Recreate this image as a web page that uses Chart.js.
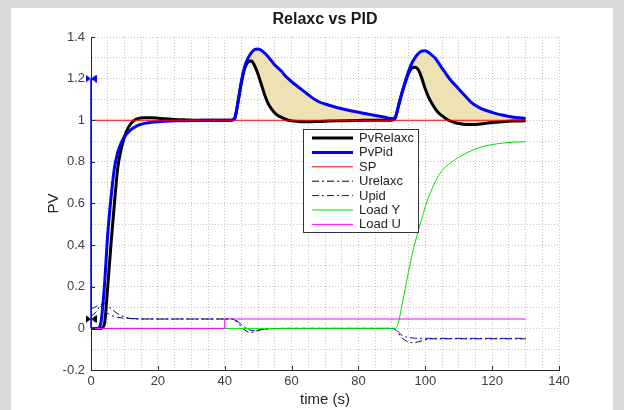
<!DOCTYPE html>
<html>
<head>
<meta charset="utf-8">
<script src="https://cdn.jsdelivr.net/npm/chart.js@4/dist/chart.umd.min.js"></script>
<style>
  html, body { margin: 0; padding: 0; background: #d9d9d9; }
  #panel { position: absolute; left: 11px; top: 8px; width: 602px; height: 402px; background: #fff; }
  #wrap { position: absolute; left: 0; top: 0; width: 624px; height: 410px; }
  canvas { display: block; }
</style>
</head>
<body>
<div id="panel"></div>
<div id="wrap"><canvas id="pvChart" width="624" height="410"></canvas></div>
<script>
// ---- data ----
const chartTitle = "Relaxc vs PID";
const xTitle = "time (s)";
const yTitle = "PV";

const time = [0,1,2,3,4,5,6,7,8,9,10,11,12,13,14,16,18,20,22,25,28,32,36,40,
  42,43,44,45,46,47,48,49,50,51,52,53,54,55,56,57,58,59,60,
  62,64,66,68,70,73,76,80,84,88,
  90,91,92,93,94,95,96,97,98,99,100,101,102,103,104,105,106,107,108,109,110,
  112,114,116,118,120,123,126,130];

const pvRelaxc = [0,0,0,0,0.02,0.2,0.41,0.6,0.77,0.86,0.92,0.96,0.985,1.0,1.008,1.012,1.012,1.01,1.007,1.004,1.002,1.0,1.0,1.0,
  1.0,1.01,1.09,1.18,1.25,1.28,1.285,1.26,1.22,1.17,1.12,1.08,1.055,1.035,1.022,1.014,1.007,1.0,0.997,
  0.994,0.993,0.993,0.994,0.995,0.997,0.998,0.999,1.0,1.0,
  1.0,1.01,1.07,1.13,1.18,1.225,1.25,1.255,1.24,1.2,1.15,1.11,1.08,1.055,1.035,1.022,1.01,1.0,0.993,0.988,0.984,
  0.98,0.979,0.981,0.985,0.989,0.993,0.996,0.997];

const pvPid = [0,0,0,0.03,0.2,0.45,0.63,0.77,0.845,0.89,0.92,0.94,0.955,0.966,0.975,0.985,0.99,0.993,0.995,0.997,0.998,0.999,1.0,1.0,
  1.0,1.01,1.09,1.19,1.26,1.3,1.325,1.34,1.342,1.335,1.322,1.305,1.285,1.265,1.25,1.235,1.215,1.2,1.185,
  1.16,1.135,1.11,1.09,1.078,1.064,1.052,1.038,1.026,1.014,
  1.008,1.015,1.07,1.13,1.185,1.235,1.275,1.302,1.322,1.333,1.334,1.325,1.312,1.298,1.275,1.25,1.228,1.205,1.185,1.168,1.15,
  1.115,1.082,1.062,1.048,1.038,1.025,1.016,1.008];

const spTime = [0, 130];
const sp = [1, 1];

const uTime = [0,1,2,3,4,5,6,7,8,10,12,15,20,30,40,42,43,44,45,46,47,48,49,50,
  52,55,60,70,80,88,90,91,92,93,94,95,96,97,98,100,102,105,110,120,130];
const uRelaxc = [0.06,0.07,0.09,0.115,0.118,0.108,0.095,0.082,0.07,0.055,0.047,0.045,0.045,0.045,0.045,
  0.045,0.04,0.025,0.008,-0.008,-0.017,-0.019,-0.016,-0.01,
  -0.004,-0.001,0,0,0,0,0,-0.005,-0.025,-0.045,-0.058,-0.066,-0.069,-0.068,-0.064,
  -0.055,-0.05,-0.05,-0.05,-0.05,-0.05];
const uPid = [0.095,0.1,0.108,0.104,0.085,0.072,0.063,0.057,0.053,0.049,0.047,0.046,0.045,0.045,0.045,
  0.045,0.043,0.032,0.018,0.006,-0.004,-0.01,-0.011,-0.008,
  -0.003,-0.001,0,0,0,0,0,-0.003,-0.018,-0.032,-0.04,-0.044,-0.046,-0.047,-0.048,
  -0.048,-0.048,-0.048,-0.048,-0.048,-0.048];

const loadYTime = [0,90,91,92,93,94,95,96,97,98,99,100,101,102,104,106,108,110,112,115,118,122,126,130];
const loadY = [0,0,0,0.03,0.11,0.19,0.275,0.35,0.415,0.475,0.53,0.585,0.632,0.67,0.735,0.775,0.8,0.822,0.84,0.862,0.877,0.888,0.894,0.897];

const loadUTime = [0, 40, 40, 130];
const loadU = [0, 0, 0.045, 0.045];

// markers sitting on the left axis
const stemTime = [0, 0];
const stemValue = [0, 1.2];
const pidMarker = [1.2];
const relaxcMarker = [0.045];

const fillStart = 42; // shaded gap only after the first load step

const xTickValues = [0,20,40,60,80,100,120,140];
const xTickLabels = ["0","20","40","60","80","100","120","140"];
const yTickValues = [-0.2,0,0.2,0.4,0.6,0.8,1,1.2,1.4];
const yTickLabels = ["-0.2","0","0.2","0.4","0.6","0.8","1","1.2","1.4"];

const legendLabels = ["PvRelaxc","PvPid","SP","Urelaxc","Upid","Load Y","Load U"];

// ---- helpers ----
const pts = (xs, ys) => xs.map((x, i) => ({ x: x, y: ys[i] }));
const after = (xs, ys, t0) => pts(xs, ys).filter(p => p.x >= t0);

function bowtie(color) {
  const c = document.createElement("canvas");
  c.width = 11; c.height = 8;
  const g = c.getContext("2d");
  g.fillStyle = color;
  g.beginPath(); g.moveTo(0, 0); g.lineTo(5.5, 4); g.lineTo(0, 8); g.closePath(); g.fill();
  g.beginPath(); g.moveTo(11, 0); g.lineTo(5.5, 4); g.lineTo(11, 8); g.closePath(); g.fill();
  return c;
}

function tickLabel(values, labels) {
  return v => {
    const i = values.findIndex(t => Math.abs(t - v) < 1e-6);
    return i >= 0 ? labels[i] : "";
  };
}

const FONT = "'Liberation Sans', Arial, sans-serif";
Chart.defaults.font.family = FONT;

// title, inward ticks and the boxed legend
const decor = {
  id: "decor",
  afterDraw(chart) {
    const ctx = chart.ctx;
    const a = chart.chartArea;
    const xs = chart.scales.x, ys = chart.scales.y;
    ctx.save();

    ctx.fillStyle = "#1a1a1a";
    ctx.font = "bold 16px " + FONT;
    ctx.textAlign = "center";
    ctx.textBaseline = "middle";
    ctx.fillText(chartTitle, (a.left + a.right) / 2, 20);

    ctx.strokeStyle = "#262626";
    ctx.lineWidth = 1;
    ctx.beginPath();
    xTickValues.forEach(v => {
      const px = Math.round(xs.getPixelForValue(v)) + 0.5;
      ctx.moveTo(px, a.bottom); ctx.lineTo(px, a.bottom - 4);
    });
    yTickValues.forEach(v => {
      const py = Math.round(ys.getPixelForValue(v)) + 0.5;
      ctx.moveTo(a.left, py); ctx.lineTo(a.left + 4, py);
    });
    ctx.stroke();

    // legend box
    const L = 303.5, T = 129.5, R = 418.5, B = 232.5;
    ctx.fillStyle = "#fff";
    ctx.fillRect(L, T, R - L, B - T);
    ctx.strokeStyle = "#333";
    ctx.strokeRect(L, T, R - L, B - T);
    ctx.font = "13px " + FONT;
    ctx.textAlign = "left";
    legendLabels.forEach((lab, i) => {
      const ds = chart.data.datasets.find(d => d.label === lab);
      const y = 138 + i * 14.4;
      ctx.strokeStyle = ds.borderColor;
      ctx.lineWidth = ds.borderWidth;
      ctx.setLineDash(ds.borderDash || []);
      ctx.beginPath(); ctx.moveTo(312, y); ctx.lineTo(353, y); ctx.stroke();
      ctx.setLineDash([]);
      ctx.fillStyle = "#262626";
      ctx.fillText(lab, 359, y + 0.5);
    });
    ctx.restore();
  }
};

const dashDot = [7, 3, 2, 3];

new Chart(document.getElementById("pvChart"), {
  type: "line",
  data: {
    datasets: [
      { label: "stem", data: pts(stemTime, stemValue), borderColor: "#0000ff", borderWidth: 1.5, pointRadius: 0, clip: false, order: 0 },
      { label: "pidMark", data: pts([0], pidMarker), showLine: false, pointStyle: bowtie("#0000ff"), pointRadius: 5, clip: false, order: 0 },
      { label: "relaxcMark", data: pts([0], relaxcMarker), showLine: false, pointStyle: bowtie("#000000"), pointRadius: 5, clip: false, order: 0 },
      { label: "Load U", data: pts(loadUTime, loadU), borderColor: "#ff00ff", borderWidth: 1, pointRadius: 0, order: 1 },
      { label: "Load Y", data: pts(loadYTime, loadY), borderColor: "#00e000", borderWidth: 1, pointRadius: 0, cubicInterpolationMode: "monotone", order: 2 },
      { label: "Upid", data: pts(uTime, uPid), borderColor: "#0000ff", borderWidth: 1, borderDash: dashDot, pointRadius: 0, cubicInterpolationMode: "monotone", order: 3 },
      { label: "Urelaxc", data: pts(uTime, uRelaxc), borderColor: "#000000", borderWidth: 1, borderDash: dashDot, pointRadius: 0, cubicInterpolationMode: "monotone", order: 4 },
      { label: "SP", data: pts(spTime, sp), borderColor: "#ff0000", borderWidth: 1, pointRadius: 0, order: 5 },
      { label: "PvPid", data: pts(time, pvPid), borderColor: "#0000ff", borderWidth: 3, pointRadius: 0, cubicInterpolationMode: "monotone", order: 6 },
      { label: "PvRelaxc", data: pts(time, pvRelaxc), borderColor: "#000000", borderWidth: 3, pointRadius: 0, cubicInterpolationMode: "monotone", order: 7 },
      { label: "gapTop", data: after(time, pvPid, fillStart), borderWidth: 0, borderColor: "rgba(0,0,0,0)", pointRadius: 0, cubicInterpolationMode: "monotone",
        fill: { target: "+1", above: "#eee2b4", below: "rgba(0,0,0,0)" }, order: 8 },
      { label: "gapBottom", data: after(time, pvRelaxc, fillStart), borderWidth: 0, borderColor: "rgba(0,0,0,0)", pointRadius: 0, cubicInterpolationMode: "monotone", order: 9 }
    ]
  },
  options: {
    responsive: false,
    animation: false,
    layout: { padding: { top: 37, right: 65, left: 0, bottom: 0 } },
    plugins: { legend: { display: false }, title: { display: false }, tooltip: { enabled: false } },
    scales: {
      x: {
        type: "linear", min: 0, max: 140,
        afterFit: s => { s.height = 40; },
        ticks: { stepSize: 5, autoSkip: false, maxRotation: 0, padding: 4, color: "#404040", font: { size: 13 },
                 callback: tickLabel(xTickValues, xTickLabels) },
        grid: { color: "#c4c4c4", lineWidth: 1, drawTicks: false },
        border: { display: true, color: "#262626", width: 1, dash: [1, 2] },
        title: { display: true, text: xTitle, color: "#262626", font: { size: 15 }, padding: { top: 0, bottom: 1 } }
      },
      y: {
        type: "linear", min: -0.2, max: 1.4,
        afterFit: s => { s.width = 91; },
        ticks: { stepSize: 0.1, autoSkip: false, padding: 6, color: "#404040", font: { size: 13 },
                 callback: tickLabel(yTickValues, yTickLabels) },
        grid: { color: "#c4c4c4", lineWidth: 1, drawTicks: false },
        border: { display: true, color: "#262626", width: 1, dash: [1, 2] },
        title: { display: true, text: yTitle, color: "#262626", font: { size: 15 }, padding: { top: 45, bottom: 0 } }
      }
    }
  },
  plugins: [decor]
});
</script>
</body>
</html>
